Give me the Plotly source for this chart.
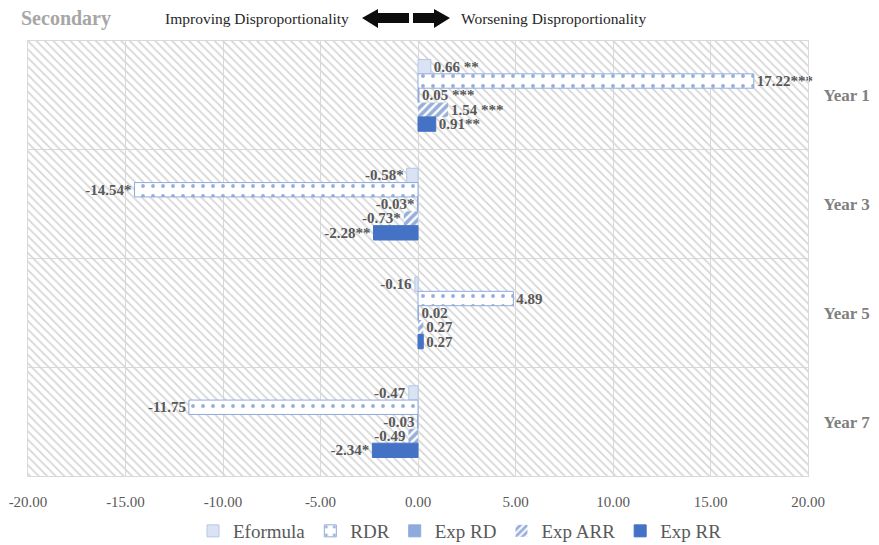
import plotly.graph_objects as go

# ---------------- data ----------------
years = ["Year 1", "Year 3", "Year 5", "Year 7"]
eformula = [0.66, -0.58, -0.16, -0.47]
rdr = [17.22, -14.54, 4.89, -11.75]
exp_rd = [0.05, -0.03, 0.02, -0.03]
exp_arr = [1.54, -0.73, 0.27, -0.49]
exp_rr = [0.91, -2.28, 0.27, -2.34]

sig_eformula = [" **", "*", "", ""]
sig_rdr = ["***", "*", "", ""]
sig_exp_rd = [" ***", "*", "", ""]
sig_exp_arr = [" ***", "*", "", ""]
sig_exp_rr = ["**", "**", "", "*"]

x_ticks = [-20, -15, -10, -5, 0, 5, 10, 15, 20]
x_tick_labels = ["%.2f" % v for v in x_ticks]

W, H = 879, 545
L, R, T, B = 28, 808, 41, 476  # plot area in pixels
FONT = "Liberation Serif"


def px(x):
    return (x - L) / (R - L)


def py(y):
    return (B - y) / (B - T)


def labels(vals, sigs):
    return ["<b>%s%s</b>" % (("%.2f" % v), s) for v, s in zip(vals, sigs)]


fig = go.Figure()

# hatched plot background (decorative, on hidden base axes)
fig.add_trace(go.Bar(
    x=[0.5], y=[1], width=[1], base=[0], xaxis="x", yaxis="y",
    marker=dict(color="#d6d6d6", line=dict(width=0),
                pattern=dict(shape="\\", fillmode="replace", size=6, solidity=0.3)),
    showlegend=False, hoverinfo="skip",
))

text_font = dict(family=FONT, size=15, color="#595959")

series = [
    ("Eformula", eformula, sig_eformula,
     dict(color="#dae3f3", line=dict(color="#b4c7e7", width=1))),
    ("RDR", rdr, sig_rdr,
     dict(color="white", line=dict(color="#8faadc", width=1),
          pattern=dict(shape=".", fgcolor="#2f5fb3", bgcolor="white", size=10, solidity=0.12))),
    ("Exp RD", exp_rd, sig_exp_rd,
     dict(color="#8faadc", line=dict(color="#8faadc", width=1))),
    ("Exp ARR", exp_arr, sig_exp_arr,
     dict(color="white", line=dict(width=0),
          pattern=dict(shape="/", fgcolor="#2f5fb3", bgcolor="white", size=6, solidity=0.6))),
    ("Exp RR", exp_rr, sig_exp_rr,
     dict(color="#4472c4", line=dict(color="#4472c4", width=1))),
]

for name, vals, sigs, marker in series:
    fig.add_trace(go.Bar(
        name=name, x=vals, y=years, orientation="h",
        xaxis="x2", yaxis="y2", marker=marker,
        text=labels(vals, sigs), textposition="outside",
        textfont=text_font, constraintext="none", cliponaxis=False,
    ))

fig.update_layout(
    width=W, height=H,
    margin=dict(l=L, r=W - R, t=T, b=H - B, autoexpand=False),
    paper_bgcolor="white", plot_bgcolor="white",
    barmode="group", bargap=0.34, bargroupgap=0,
    font=dict(family=FONT, color="#595959"),
    xaxis=dict(range=[0, 1], visible=False, fixedrange=True),
    yaxis=dict(range=[0, 1], visible=False, fixedrange=True),
    xaxis2=dict(
        overlaying="x", anchor="y2", side="bottom", automargin=False,
        range=[-20, 20], tickvals=x_ticks, ticktext=x_tick_labels,
        showgrid=True, gridcolor="#d9d9d9", gridwidth=1, zeroline=False,
        showline=True, linecolor="#d9d9d9", mirror=True,
        ticks="", ticklabelstandoff=12,
        tickfont=dict(family=FONT, size=15, color="#595959"),
    ),
    yaxis2=dict(
        overlaying="y", anchor="x2", side="right", type="category", automargin=False,
        categoryorder="array", categoryarray=years, autorange="reversed",
        tickson="boundaries", showgrid=True, gridcolor="#d9d9d9", gridwidth=1,
        showline=True, linecolor="#d9d9d9", mirror=True,
        ticks="", ticklabelstandoff=11,
        tickfont=dict(family=FONT, size=17, color="#7f7f7f", weight="bold"),
    ),
    legend=dict(
        orientation="h", x=px(460), xanchor="center", y=py(512), yanchor="top",
        font=dict(family=FONT, size=19, color="#595959"),
        itemwidth=30, tracegroupgap=0, bgcolor="rgba(0,0,0,0)",
    ),
)

# header texts
fig.add_annotation(text="<b>Secondary</b>", xref="paper", yref="paper",
                   x=px(19), y=py(18), xanchor="left", yanchor="middle",
                   showarrow=False, font=dict(family=FONT, size=20, color="#a6a6a6"))
fig.add_annotation(text="Improving Disproportionality", xref="paper", yref="paper",
                   x=px(351), y=py(19), xanchor="right", yanchor="middle",
                   showarrow=False, font=dict(family=FONT, size=15.5, color="#262626"))
fig.add_annotation(text="Worsening Disproportionality", xref="paper", yref="paper",
                   x=px(459), y=py(19), xanchor="left", yanchor="middle",
                   showarrow=False, font=dict(family=FONT, size=15.5, color="#262626"))


def path(points):
    return "M " + " L ".join("%.5f,%.5f" % (px(a), py(b)) for a, b in points) + " Z"


left_arrow = [(362, 18), (378, 9), (378, 13), (409, 13), (409, 23), (378, 23), (378, 28)]
right_arrow = [(450, 18), (434, 9), (434, 13), (413, 13), (413, 23), (434, 23), (434, 28)]
for pts in (left_arrow, right_arrow):
    fig.add_shape(type="path", xref="paper", yref="paper", path=path(pts),
                  fillcolor="#0d0d0d", line=dict(width=0))

fig.write_html("out.html")
